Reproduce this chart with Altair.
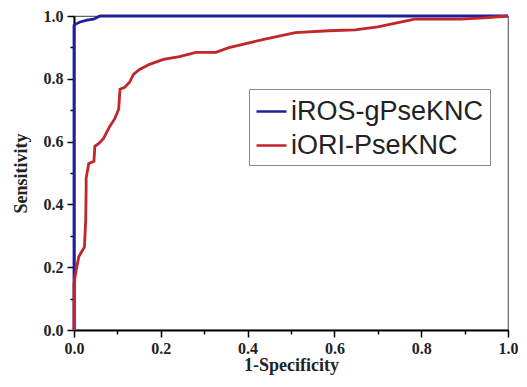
import altair as alt
import pandas as pd

series_names = ["iROS-gPseKNC", "iORI-PseKNC"]
colors = ["#1e1e9e", "#c0262a"]

blue_x = [0.0, 0.0, 0.005, 0.014, 0.03, 0.045, 0.06, 1.0]
blue_y = [0.0, 0.97, 0.975, 0.981, 0.987, 0.99, 1.0, 1.0]

red_x = [0.0, 0.0, 0.005, 0.011, 0.018, 0.024, 0.027, 0.028, 0.028, 0.034, 0.046,
         0.048, 0.058, 0.068, 0.083, 0.094, 0.103, 0.106, 0.117, 0.128, 0.137,
         0.151, 0.174, 0.206, 0.243, 0.281, 0.327, 0.357, 0.435, 0.51, 0.586,
         0.648, 0.70, 0.755, 0.785, 0.892, 0.945, 1.0]
red_y = [0.0, 0.148, 0.19, 0.233, 0.25, 0.264, 0.35, 0.453, 0.484, 0.53, 0.537,
         0.585, 0.595, 0.61, 0.65, 0.673, 0.704, 0.767, 0.773, 0.789, 0.814,
         0.830, 0.846, 0.862, 0.871, 0.884, 0.884, 0.899, 0.925, 0.947, 0.953,
         0.956, 0.965, 0.981, 0.99, 0.99, 0.994, 1.0]

tick_values = [round(i * 0.1, 1) for i in range(11)]

rows = []
for i, (x, y) in enumerate(zip(blue_x, blue_y)):
    rows.append({"series": series_names[0], "x": x, "y": y, "i": i})
for i, (x, y) in enumerate(zip(red_x, red_y)):
    rows.append({"series": series_names[1], "x": x, "y": y, "i": i})
df = pd.DataFrame(rows)

serif = "Liberation Serif"
even = "round(datum.value*10) % 2 == 0"

def axis(title, title_pad, label_pad):
    return alt.Axis(
        title=title, values=tick_values,
        labelExpr=f"{even} ? format(datum.value, '.1f') : ''",
        tickSize={"condition": {"test": even, "value": 7}, "value": 4},
        tickColor="black", tickWidth=1.5,
        domainColor="black", domainWidth=2,
        labelFont=serif, labelFontSize=16, labelFontWeight="bold", labelColor="#222",
        labelPadding=label_pad, labelOverlap=False, labelFlush=False,
        titleFont=serif, titleFontSize=18, titleFontWeight="bold", titleColor="#222",
        titlePadding=title_pad, grid=False,
    )

chart = alt.Chart(df).mark_line(strokeWidth=2.8, clip=False).encode(
    x=alt.X("x:Q", scale=alt.Scale(domain=[0, 1], nice=False), axis=axis("1-Specificity", 0, 3)),
    y=alt.Y("y:Q", scale=alt.Scale(domain=[0, 1], nice=False), axis=axis("Sensitivity", 13, 4)),
    color=alt.Color("series:N",
                    scale=alt.Scale(domain=series_names, range=colors),
                    sort=series_names,
                    legend=alt.Legend(orient="none", legendX=175, legendY=73, title=None,
                                      symbolType="stroke", symbolSize=900,
                                      symbolStrokeWidth=2.5,
                                      labelFont="Liberation Sans", labelFontSize=27,
                                      labelColor="#222", labelOffset=3, labelLimit=400,
                                      strokeColor="#888", fillColor="white",
                                      padding=6, rowPadding=4)),
    detail="series:N",
    order="i:Q",
).properties(
    width=434, height=314,
    autosize=alt.AutoSizeParams(type="none"),
    padding={"left": 66, "top": 8, "right": 10, "bottom": 49},
).configure_view(stroke="#666", strokeWidth=1.2)

chart.save("out.html", embed_options={"renderer": "svg", "actions": False})
